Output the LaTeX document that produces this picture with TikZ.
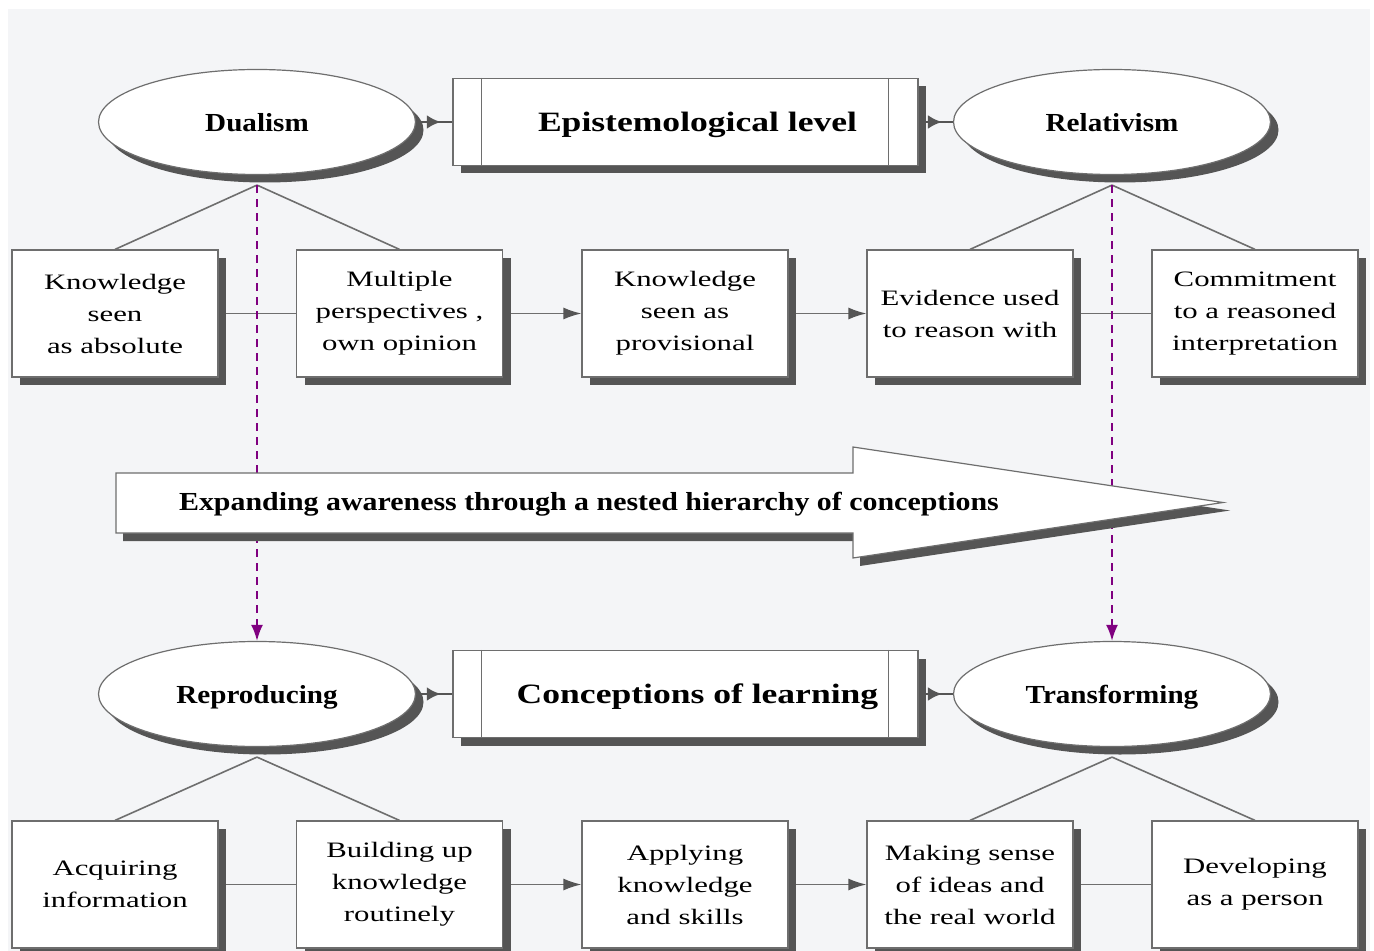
\documentclass[tikz,border=0pt]{standalone}
\usepackage{fontspec}
\setmainfont{Liberation Serif}
\newfontfamily\boxfont[FakeStretch=1.4]{Liberation Serif}
\newfontfamily\tagfont[FakeStretch=1.12]{Liberation Serif}
\newfontfamily\levelfont[FakeStretch=1.27]{Liberation Serif}
\newfontfamily\bannerfont[FakeStretch=1.15]{Liberation Serif}
\usetikzlibrary{shapes.geometric,shadows,calc,arrows.meta,decorations.markings,backgrounds}

\definecolor{pagebg}{HTML}{F4F5F7}
\definecolor{edge}{HTML}{6E6E6E}
\definecolor{shadowcol}{HTML}{555555}
\definecolor{plum}{HTML}{800080}

\tikzset{
  shadowed/.style={drop shadow={shadow xshift=4pt, shadow yshift=-4pt, opacity=1, fill=shadowcol}},
  stage/.style={draw=edge, line width=0.6pt, fill=white, shadowed,
    minimum width=103pt, minimum height=63.5pt, inner sep=0pt, align=center,
    font=\boxfont\fontsize{11}{16}\selectfont},
  view/.style={ellipse, draw=edge, line width=0.6pt, fill=white, shadowed,
    minimum width=158.5pt, minimum height=52.5pt, inner sep=0pt, text depth=0pt,
    font=\tagfont\bfseries\fontsize{13}{15}\selectfont},
  level/.style={draw=edge, line width=0.6pt, fill=white, shadowed,
    minimum width=232.5pt, minimum height=43.5pt, inner sep=0pt, text depth=0pt,
    font=\levelfont\bfseries\fontsize{14}{16}\selectfont},
  bar/.style={draw=edge, line width=0.6pt},
  link/.style={draw=edge, line width=0.8pt},
  flow/.style={link, -{Latex[length=9pt,width=6pt,color=shadowcol]}},
  tie/.style={draw=shadowcol, line width=1.4pt, postaction={decorate},
    decoration={markings, mark=at position 0.68 with {\arrow{Latex[length=7pt,width=7pt,color=shadowcol]}}}},
  descent/.style={draw=plum, line width=1pt, dash pattern=on 4pt off 3pt,
    -{Latex[length=8pt,width=6pt,color=plum]}},
  banner/.style={font=\bannerfont\bfseries\fontsize{13}{15}\selectfont, inner sep=0pt, anchor=base},
}

\newcommand\bannerpath{(116,473) -- (853,473) -- (853,447) -- (1223,502.5) -- (853,558) -- (853,533) -- (116,533) -- cycle}

\begin{document}
\begin{tikzpicture}[x=0.5pt,y=-0.5pt]
  \useasboundingbox (0,0) rectangle (1374,951);

  % upper level: epistemology
  \node[view]  (dual) at (257,122)    {Dualism};
  \node[level] (epi)  at (685.5,122)  {\hspace*{12pt}Epistemological level};
  \node[view]  (rel)  at (1112,122)   {Relativism};

  \node[stage] (k1) at (115,313.5)  {Knowledge\\seen\\as absolute};
  \node[stage] (k2) at (399.5,313.5){Multiple\\perspectives ,\\own opinion};
  \node[stage] (k3) at (685,313.5)  {Knowledge\\seen as\\provisional};
  \node[stage] (k4) at (970,313.5)  {Evidence used\\to reason with};
  \node[stage] (k5) at (1255,313.5) {Commitment\\to a reasoned\\interpretation};

  % lower level: conceptions of learning
  \node[view]  (repro) at (257,694)   {Reproducing};
  \node[level] (conc)  at (685.5,694) {\hspace*{12pt}Conceptions of learning};
  \node[view]  (trans) at (1112,694)  {Transforming};

  \node[stage] (c1) at (115,884.5)   {Acquiring\\information};
  \node[stage] (c2) at (399.5,884.5) {Building up\\knowledge\\routinely};
  \node[stage] (c3) at (685,884.5)   {Applying\\knowledge\\and skills};
  \node[stage] (c4) at (970,884.5)   {Making sense\\of ideas and\\the real world};
  \node[stage] (c5) at (1255,884.5)  {Developing\\as a person};

  % side rules inside the level boxes
  \foreach \b in {epi,conc}{
    \draw[bar] ($(\b.north west)+(29,0)$) -- ($(\b.south west)+(29,0)$);
    \draw[bar] ($(\b.north east)+(-30,0)$) -- ($(\b.south east)+(-30,0)$);
  }

  % central arrow with its shadow
  \begin{scope}[shift={(7,8)}]
    \fill[shadowcol] \bannerpath;
  \end{scope}
  \draw[edge, line width=0.6pt, fill=white] \bannerpath;
  \node[banner] (theme) at (589,510) {Expanding awareness through a nested hierarchy of conceptions};

  \begin{pgfonlayer}{background}
    \fill[white] (0,0) rectangle (1374,951);
    \fill[pagebg] (8,9) rectangle (1370,951);

    % branches from each conception to its descriptions
    \coordinate (dualfoot)  at ($(dual.south)+(0,10)$);
    \coordinate (relfoot)   at ($(rel.south)+(0,10)$);
    \coordinate (reprofoot) at ($(repro.south)+(0,10)$);
    \coordinate (transfoot) at ($(trans.south)+(0,10)$);
    \draw[link] (dualfoot) -- (k1.north);
    \draw[link] (dualfoot) -- (k2.north);
    \draw[link] (relfoot) -- (k4.north);
    \draw[link] (relfoot) -- (k5.north);
    \draw[link] (reprofoot) -- (c1.north);
    \draw[link] (reprofoot) -- (c2.north);
    \draw[link] (transfoot) -- (c4.north);
    \draw[link] (transfoot) -- (c5.north);

    % rows of descriptions
    \draw[link] (k1) -- (k2);
    \draw[flow] (k2) -- (k3);
    \draw[flow] (k3) -- (k4);
    \draw[link] (k4) -- (k5);
    \draw[link] (c1) -- (c2);
    \draw[flow] (c2) -- (c3);
    \draw[flow] (c3) -- (c4);
    \draw[link] (c4) -- (c5);

    % ties between conceptions and level titles
    \draw[tie] (dual.east) -- (epi.west);
    \draw[tie] (epi.east) -- (rel.west);
    \draw[tie] (repro.east) -- (conc.west);
    \draw[tie] (conc.east) -- (trans.west);

    % correspondence between the levels
    \draw[descent] (dualfoot) -- (repro.north);
    \draw[descent] (relfoot) -- (trans.north);
  \end{pgfonlayer}
\end{tikzpicture}
\end{document}
